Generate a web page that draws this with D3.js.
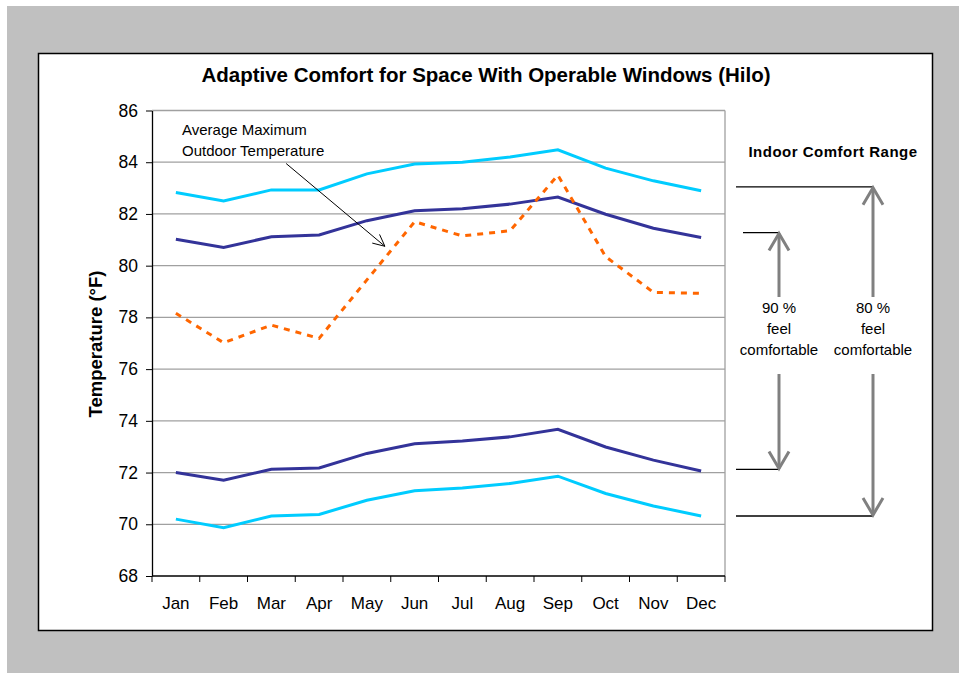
<!DOCTYPE html>
<html>
<head>
<meta charset="utf-8">
<script src="https://cdn.jsdelivr.net/npm/d3@7"></script>
<style>
  body { margin: 0; background: #fff; }
  svg { display: block; font-family: "Liberation Sans", Arial, sans-serif; }
</style>
</head>
<body>
<svg id="chart" width="959" height="673"></svg>
<script>
const months = ["Jan", "Feb", "Mar", "Apr", "May", "Jun", "Jul", "Aug", "Sep", "Oct", "Nov", "Dec"];
const upper80 = [82.83, 82.5, 82.93, 82.93, 83.55, 83.93, 84.0, 84.2, 84.48, 83.77, 83.28, 82.9];
const upper90 = [81.02, 80.7, 81.12, 81.19, 81.74, 82.12, 82.2, 82.38, 82.65, 81.99, 81.45, 81.09];
const outdoorMax = [78.16, 77.02, 77.7, 77.19, 79.45, 81.7, 81.15, 81.35, 83.5, 80.35, 78.97, 78.93];
const lower90 = [72.0, 71.7, 72.13, 72.18, 72.74, 73.11, 73.22, 73.38, 73.67, 72.99, 72.48, 72.06];
const lower80 = [70.2, 69.87, 70.32, 70.38, 70.93, 71.3, 71.4, 71.58, 71.86, 71.19, 70.71, 70.32];
const yTicks = [68, 70, 72, 74, 76, 78, 80, 82, 84, 86];

// comfort-range brackets on the right (temperature levels)
const range80 = [83.05, 70.32];
const range90 = [81.28, 72.12];

const svg = d3.select("#chart");

// page background + chart frame
svg.append("rect").attr("x", 7).attr("y", 6).attr("width", 952).attr("height", 667).attr("fill", "#c0c0c0");
svg.append("rect").attr("x", 38.5).attr("y", 53.5).attr("width", 894).attr("height", 577)
  .attr("fill", "#fff").attr("stroke", "#000").attr("stroke-width", 1.5);

const plot = { left: 152, top: 110.5, right: 725, bottom: 576 };

const x = d3.scaleBand().domain(months).range([plot.left, plot.right]);
const y = d3.scaleLinear().domain([68, 86]).range([plot.bottom, plot.top]);
const xc = (m) => x(m) + x.bandwidth() / 2;

// gridlines
svg.append("g")
  .selectAll("line")
  .data(yTicks.slice(1))
  .join("line")
  .attr("x1", plot.left).attr("x2", plot.right)
  .attr("y1", (d) => y(d)).attr("y2", (d) => y(d))
  .attr("stroke", "#a0a0a0").attr("stroke-width", 1.3);

// right plot border
svg.append("line")
  .attr("x1", plot.right).attr("x2", plot.right)
  .attr("y1", plot.top).attr("y2", plot.bottom)
  .attr("stroke", "#a0a0a0").attr("stroke-width", 1.3);

// y axis
const yAxis = d3.axisLeft(y).tickValues(yTicks).tickSize(6).tickSizeOuter(0).tickPadding(8);
const gy = svg.append("g").attr("transform", `translate(${plot.left},0)`).call(yAxis);
gy.select(".domain").attr("stroke", "#000").attr("stroke-width", 1.3);
gy.selectAll(".tick line").attr("stroke", "#000");
gy.selectAll(".tick text").attr("font-size", 17.5).attr("fill", "#000").attr("font-family", "Liberation Sans, Arial, sans-serif");

// x axis: ticks at band boundaries
const gx = svg.append("g").attr("transform", `translate(0,${plot.bottom})`);
gx.append("line").attr("x1", plot.left).attr("x2", plot.right).attr("stroke", "#000").attr("stroke-width", 1.3);
gx.selectAll(".xt")
  .data(months.concat(["end"]))
  .join("line")
  .attr("class", "xt")
  .attr("x1", (d, i) => plot.left + i * x.bandwidth())
  .attr("x2", (d, i) => plot.left + i * x.bandwidth())
  .attr("y1", 0).attr("y2", 6)
  .attr("stroke", "#000");
gx.selectAll(".xl")
  .data(months)
  .join("text")
  .attr("class", "xl")
  .attr("x", (d) => xc(d))
  .attr("y", 33)
  .attr("text-anchor", "middle")
  .attr("font-size", 17)
  .text((d) => d);

// series lines
const line = d3.line().x((d, i) => xc(months[i])).y((d) => y(d));
const series = [
  { values: upper80, color: "#00ccff", dash: null },
  { values: lower80, color: "#00ccff", dash: null },
  { values: upper90, color: "#333399", dash: null },
  { values: lower90, color: "#333399", dash: null },
  { values: outdoorMax, color: "#ff6600", dash: "6,6" },
];
svg.append("g")
  .selectAll("path")
  .data(series)
  .join("path")
  .attr("d", (d) => line(d.values))
  .attr("fill", "none")
  .attr("stroke", (d) => d.color)
  .attr("stroke-width", 3)
  .attr("stroke-dasharray", (d) => d.dash);

// title
svg.append("text")
  .attr("x", 486).attr("y", 82)
  .attr("text-anchor", "middle")
  .attr("font-size", 20.5).attr("font-weight", "bold")
  .text("Adaptive Comfort for Space With Operable Windows (Hilo)");

// y axis title
svg.append("text")
  .attr("transform", "translate(102,344) rotate(-90)")
  .attr("text-anchor", "middle")
  .attr("font-size", 18.5).attr("font-weight", "bold")
  .text("Temperature (°F)");

// annotation
const ann = svg.append("g").attr("font-size", 15);
ann.append("text").attr("x", 182).attr("y", 135).text("Average Maximum");
ann.append("text").attr("x", 182).attr("y", 156).text("Outdoor Temperature");

const arrowStart = [xc("Apr") - 33, y(83.95)];
const arrowEnd = [xc("May") + 18, y(80.75)];
ann.append("line")
  .attr("x1", arrowStart[0]).attr("y1", arrowStart[1])
  .attr("x2", arrowEnd[0]).attr("y2", arrowEnd[1])
  .attr("stroke", "#000").attr("stroke-width", 1);
{
  const ang = Math.atan2(arrowEnd[1] - arrowStart[1], arrowEnd[0] - arrowStart[0]);
  const len = 13, spread = 0.45;
  const p1 = [arrowEnd[0] - len * Math.cos(ang - spread), arrowEnd[1] - len * Math.sin(ang - spread)];
  const p2 = [arrowEnd[0] - len * Math.cos(ang + spread), arrowEnd[1] - len * Math.sin(ang + spread)];
  ann.append("path")
    .attr("d", `M${p1}L${arrowEnd}L${p2}`)
    .attr("fill", "none").attr("stroke", "#000").attr("stroke-width", 1);
}

// indoor comfort range panel
const side = svg.append("g");
side.append("text")
  .attr("x", 833).attr("y", 157)
  .attr("text-anchor", "middle")
  .attr("font-size", 15).attr("font-weight", "bold")
  .attr("letter-spacing", 0.5)
  .text("Indoor Comfort Range");

const brackets = [
  { range: range80, ax: 873, x0: 736, label: "80 %" },
  { range: range90, ax: 779, x0: 743, label: "90 %" },
];
brackets.forEach((b) => {
  // horizontal level lines
  side.append("line")
    .attr("x1", b.x0).attr("x2", b.ax)
    .attr("y1", y(b.range[0])).attr("y2", y(b.range[0]))
    .attr("stroke", "#000").attr("stroke-width", 1.3);
  side.append("line")
    .attr("x1", 736).attr("x2", b.ax)
    .attr("y1", y(b.range[1])).attr("y2", y(b.range[1]))
    .attr("stroke", "#000").attr("stroke-width", 1.3);

  // grey arrows
  const topTip = y(b.range[0]);
  const botTip = y(b.range[1]);
  const g = side.append("g").attr("stroke", "#808080").attr("stroke-width", 3).attr("fill", "none");
  g.append("line").attr("x1", b.ax).attr("x2", b.ax).attr("y1", 297).attr("y2", topTip + 1);
  g.append("path").attr("d", `M${b.ax - 10},${topTip + 18}L${b.ax},${topTip + 1}L${b.ax + 10},${topTip + 18}`);
  g.append("line").attr("x1", b.ax).attr("x2", b.ax).attr("y1", 374).attr("y2", botTip - 1);
  g.append("path").attr("d", `M${b.ax - 10},${botTip - 18}L${b.ax},${botTip - 1}L${b.ax + 10},${botTip - 18}`);

  const t = side.append("text").attr("text-anchor", "middle").attr("font-size", 15);
  t.append("tspan").attr("x", b.ax).attr("y", 313).text(b.label);
  t.append("tspan").attr("x", b.ax).attr("y", 334).text("feel");
  t.append("tspan").attr("x", b.ax).attr("y", 355).text("comfortable");
});
</script>
</body>
</html>
